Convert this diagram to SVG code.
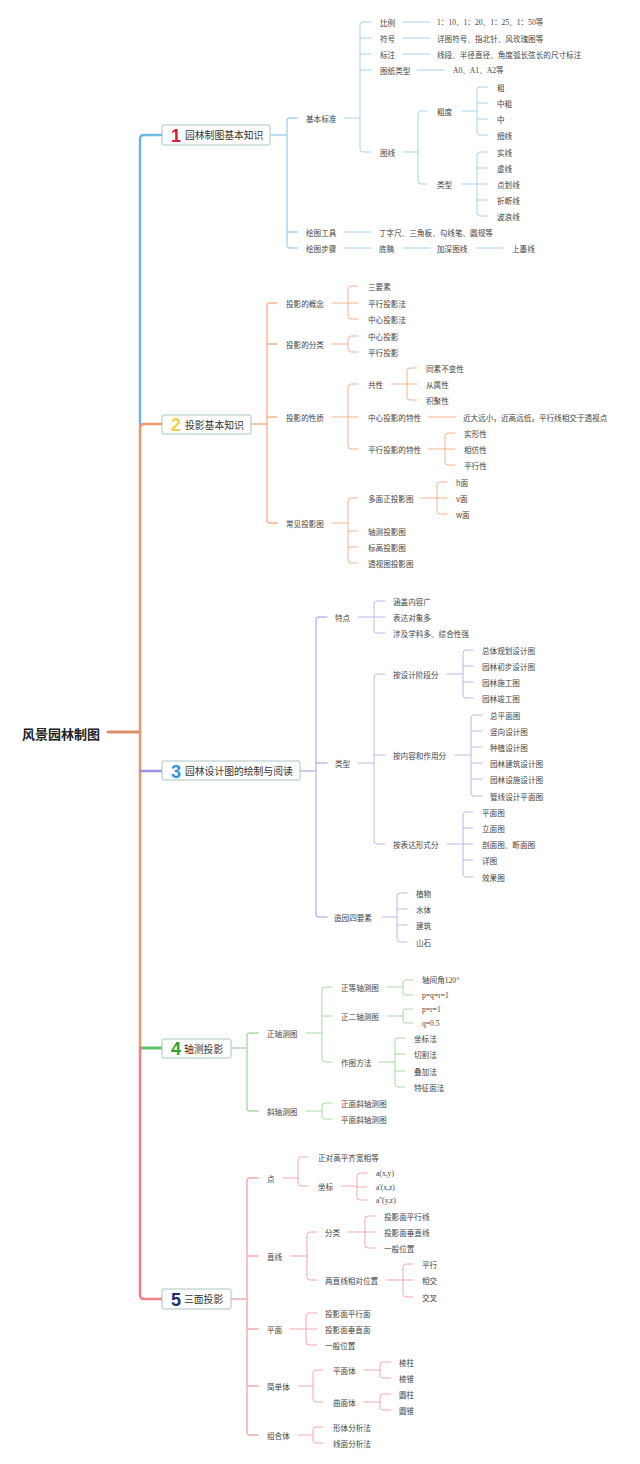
<svg xmlns="http://www.w3.org/2000/svg" width="640" height="1464" viewBox="0 0 640 1464">
<style>
text{font-family:"Noto Sans CJK SC","Noto Sans",sans-serif;dominant-baseline:central;fill:#444}
.t{font-size:7.6px}
.s{font-family:"Liberation Serif","Noto Sans CJK SC",serif;font-size:7.6px}
.nl{font-size:9.8px;fill:#333}
.num{font-family:"Liberation Sans","DejaVu Sans",sans-serif;font-weight:bold;font-size:18px}
.root{font-size:13px;font-weight:bold;fill:#222}
.box{fill:#fff;stroke:#a9c6c2;stroke-width:1}
path{fill:none;stroke-linecap:round;stroke-linejoin:round}
.b1{stroke:#a9d2ee;stroke-width:1}
.b2{stroke:#f5b58e;stroke-width:1}
.b3{stroke:#c2b6ee;stroke-width:1}
.b4{stroke:#a9dca4;stroke-width:1}
.b5{stroke:#f5a9ac;stroke-width:1}
.k{stroke-width:1.4}
</style>
<rect width="640" height="1464" fill="#fff"/>
<g id="connectors">
<path d="M108 732 H140" stroke="#d9906a" stroke-width="3"/>
<path d="M140 425 V139 Q140 135 144 135 H162" stroke="#6db7e4" stroke-width="2.5"/>
<path d="M140 1048 V428 Q140 424 144 424 H162" stroke="#e8996b" stroke-width="2.5"/>
<path d="M140 771 H162" stroke="#9f8fe3" stroke-width="2.5"/>
<path d="M140 1048 H162" stroke="#66c266" stroke-width="3"/>
<path d="M140 1048 V1295 Q140 1299 144 1299 H162" stroke="#f08085" stroke-width="2.5"/>
<path class="b1 k" d="M270 135 H287 M297 118 H290 Q287 118 287 121 V245 Q287 248 290 248 H297 M287 232 H297"/>
<path class="b1" d="M344 118 H360 M371 22 H363 Q360 22 360 25 V149 Q360 152 363 152 H371 M360 38 H371 M360 54 H371 M360 70 H371"/>
<path class="b1" d="M403 22 H430 M403 38 H430 M403 54 H430 M417 70 H444"/>
<path class="b1" d="M403 152 H418 M427 111 H421 Q418 111 418 114 V181 Q418 184 421 184 H427"/>
<path class="b1" d="M462 111 H477 M487 87 H480 Q477 87 477 90 V132 Q477 135 480 135 H487 M477 103 H487 M477 119 H487"/>
<path class="b1" d="M462 184 H477 M487 152 H480 Q477 152 477 155 V213 Q477 216 480 216 H487 M477 168 H487 M477 184 H487 M477 200 H487"/>
<path class="b1" d="M344 232 H371 M344 248 H371 M403 248 H430 M476 248 H503"/>
<path class="b2 k" d="M251 424 H267 M277 303 H270 Q267 303 267 306 V520 Q267 523 270 523 H277 M267 344 H277 M267 417 H277"/>
<path class="b2" d="M332 303 H348 M358 286 H351 Q348 286 348 289 V316 Q348 319 351 319 H358 M348 303 H358"/>
<path class="b2" d="M332 344 H348 M358 336 H351 Q348 336 348 339 V349 Q348 352 351 352 H358"/>
<path class="b2" d="M332 417 H348 M358 384 H351 Q348 384 348 387 V446 Q348 449 351 449 H358 M348 417 H358"/>
<path class="b2" d="M391 384 H407 M417 368 H410 Q407 368 407 371 V397 Q407 400 410 400 H417 M407 384 H417"/>
<path class="b2" d="M428 417 H456"/>
<path class="b2" d="M428 449 H445 M455 433 H448 Q445 433 445 436 V462 Q445 465 448 465 H455 M445 449 H455"/>
<path class="b2" d="M332 523 H348 M358 498 H351 Q348 498 348 501 V560 Q348 563 351 563 H358 M348 531 H358 M348 547 H358"/>
<path class="b2" d="M421 498 H437 M447 482 H440 Q437 482 437 485 V511 Q437 514 440 514 H447 M437 498 H447"/>
<path class="b3 k" d="M300 771 H316 M327 617 H319 Q316 617 316 620 V914 Q316 917 319 917 H327 M316 763 H327"/>
<path class="b3" d="M358 617 H374 M385 601 H377 Q374 601 374 604 V630 Q374 633 377 633 H385 M374 617 H385"/>
<path class="b3" d="M358 763 H374 M385 674 H377 Q374 674 374 677 V841 Q374 844 377 844 H385 M374 755 H385"/>
<path class="b3" d="M447 674 H463 M473 650 H466 Q463 650 463 653 V695 Q463 698 466 698 H473 M463 666 H473 M463 682 H473"/>
<path class="b3" d="M455 755 H471 M482 715 H474 Q471 715 471 718 V793 Q471 796 474 796 H482 M471 731 H482 M471 747 H482 M471 763 H482 M471 779 H482"/>
<path class="b3" d="M447 844 H463 M473 812 H466 Q463 812 463 815 V874 Q463 877 466 877 H473 M463 828 H473 M463 844 H473 M463 860 H473"/>
<path class="b3" d="M382 917 H397 M407 893 H400 Q397 893 397 896 V939 Q397 942 400 942 H407 M397 909 H407 M397 925 H407"/>
<path class="b4 k" d="M231 1048 H247 M258 1033 H250 Q247 1033 247 1036 V1108 Q247 1111 250 1111 H258"/>
<path class="b4" d="M306 1033 H322 M332 987 H325 Q322 987 322 990 V1059 Q322 1062 325 1062 H332 M322 1016 H332"/>
<path class="b4" d="M387 987 H403 M413 980 H406 Q403 980 403 983 V992 Q403 995 406 995 H413"/>
<path class="b4" d="M387 1016 H403 M413 1009 H406 Q403 1009 403 1012 V1020 Q403 1023 406 1023 H413"/>
<path class="b4" d="M379 1062 H395 M405 1038 H398 Q395 1038 395 1041 V1084 Q395 1087 398 1087 H405 M395 1054 H405 M395 1071 H405"/>
<path class="b4" d="M306 1111 H322 M332 1103 H325 Q322 1103 322 1106 V1116 Q322 1119 325 1119 H332"/>
<path class="b5 k" d="M231 1299 H247 M258 1178 H250 Q247 1178 247 1181 V1432 Q247 1435 250 1435 H258 M247 1256 H258 M247 1329 H258 M247 1386 H258"/>
<path class="b5" d="M283 1178 H298 M308 1157 H301 Q298 1157 298 1160 V1183 Q298 1186 301 1186 H308"/>
<path class="b5" d="M341 1186 H357 M367 1173 H360 Q357 1173 357 1176 V1197 Q357 1200 360 1200 H367 M357 1187 H367"/>
<path class="b5" d="M291 1256 H307 M317 1232 H310 Q307 1232 307 1235 V1277 Q307 1280 310 1280 H317"/>
<path class="b5" d="M348 1232 H365 M375 1216 H368 Q365 1216 365 1219 V1245 Q365 1248 368 1248 H375 M365 1232 H375"/>
<path class="b5" d="M387 1280 H403 M413 1264 H406 Q403 1264 403 1267 V1294 Q403 1297 406 1297 H413 M403 1280 H413"/>
<path class="b5" d="M290 1329 H306 M317 1313 H309 Q306 1313 306 1316 V1342 Q306 1345 309 1345 H317 M306 1329 H317"/>
<path class="b5" d="M298 1386 H313 M323 1370 H316 Q313 1370 313 1373 V1399 Q313 1402 316 1402 H323"/>
<path class="b5" d="M364 1370 H380 M391 1362 H383 Q380 1362 380 1365 V1375 Q380 1378 383 1378 H391"/>
<path class="b5" d="M364 1402 H380 M391 1394 H383 Q380 1394 380 1397 V1407 Q380 1410 383 1410 H391"/>
<path class="b5" d="M298 1435 H313 M323 1427 H316 Q313 1427 313 1430 V1440 Q313 1443 316 1443 H323"/>
</g>
<g id="root"><text class="root" x="22" y="733">风景园林制图</text></g>
<g id="n1"><rect class="box" x="162" y="125" width="108" height="20" rx="2"/><text class="num" x="171" y="135.5" style="fill:#d42040">1</text><text class="nl" x="185" y="135">园林制图基本知识</text></g>
<g id="n1-1"><text class="t" x="306" y="118">基本标准</text></g>
<g id="n1-1-1"><text class="t" x="380" y="22">比例</text></g>
<g id="n1-1-1-1"><text class="s" x="437" y="22">1：10、1：20、1：25、1：50等</text></g>
<g id="n1-1-2"><text class="t" x="380" y="38">符号</text></g>
<g id="n1-1-2-1"><text class="t" x="437" y="38">详图符号、指北针、风玫瑰图等</text></g>
<g id="n1-1-3"><text class="t" x="380" y="54">标注</text></g>
<g id="n1-1-3-1"><text class="t" x="437" y="54">线段、半径直径、角度弧长弦长的尺寸标注</text></g>
<g id="n1-1-4"><text class="t" x="380" y="70">图纸类型</text></g>
<g id="n1-1-4-1"><text class="s" x="453" y="70">A0、A1、A2等</text></g>
<g id="n1-1-5"><text class="t" x="380" y="152">图线</text></g>
<g id="n1-1-5-1"><text class="t" x="437" y="111">粗度</text></g>
<g id="n1-1-5-1-1"><text class="t" x="497" y="87">粗</text></g>
<g id="n1-1-5-1-2"><text class="t" x="497" y="103">中粗</text></g>
<g id="n1-1-5-1-3"><text class="t" x="497" y="119">中</text></g>
<g id="n1-1-5-1-4"><text class="t" x="497" y="135">细线</text></g>
<g id="n1-1-5-2"><text class="t" x="437" y="184">类型</text></g>
<g id="n1-1-5-2-1"><text class="t" x="497" y="152">实线</text></g>
<g id="n1-1-5-2-2"><text class="t" x="497" y="168">虚线</text></g>
<g id="n1-1-5-2-3"><text class="t" x="497" y="184">点划线</text></g>
<g id="n1-1-5-2-4"><text class="t" x="497" y="200">折断线</text></g>
<g id="n1-1-5-2-5"><text class="t" x="497" y="216">波浪线</text></g>
<g id="n1-2"><text class="t" x="306" y="232">绘图工具</text></g>
<g id="n1-2-1"><text class="t" x="379" y="232">丁字尺、三角板、勾线笔、圆规等</text></g>
<g id="n1-3"><text class="t" x="306" y="248">绘图步骤</text></g>
<g id="n1-3-1"><text class="t" x="379" y="248">底稿</text></g>
<g id="n1-3-2"><text class="t" x="437" y="248">加深图线</text></g>
<g id="n1-3-3"><text class="t" x="512" y="248">上墨线</text></g>
<g id="n2"><rect class="box" x="162" y="415" width="89" height="19" rx="2"/><text class="num" x="171" y="425" style="fill:#f0d048">2</text><text class="nl" x="185" y="424.5">投影基本知识</text></g>
<g id="n2-1"><text class="t" x="286" y="303">投影的概念</text></g>
<g id="n2-1-1"><text class="t" x="368" y="286">三要素</text></g>
<g id="n2-1-2"><text class="t" x="368" y="303">平行投影法</text></g>
<g id="n2-1-3"><text class="t" x="368" y="319">中心投影法</text></g>
<g id="n2-2"><text class="t" x="286" y="344">投影的分类</text></g>
<g id="n2-2-1"><text class="t" x="368" y="336">中心投影</text></g>
<g id="n2-2-2"><text class="t" x="368" y="352">平行投影</text></g>
<g id="n2-3"><text class="t" x="286" y="417">投影的性质</text></g>
<g id="n2-3-1"><text class="t" x="368" y="384">共性</text></g>
<g id="n2-3-1-1"><text class="t" x="426" y="368">同素不变性</text></g>
<g id="n2-3-1-2"><text class="t" x="426" y="384">从属性</text></g>
<g id="n2-3-1-3"><text class="t" x="426" y="400">积聚性</text></g>
<g id="n2-3-2"><text class="t" x="368" y="417">中心投影的特性</text></g>
<g id="n2-3-2-1"><text class="t" x="463" y="417">近大远小，近高远低，平行线相交于透视点</text></g>
<g id="n2-3-3"><text class="t" x="368" y="449">平行投影的特性</text></g>
<g id="n2-3-3-1"><text class="t" x="464" y="433">实形性</text></g>
<g id="n2-3-3-2"><text class="t" x="464" y="449">相仿性</text></g>
<g id="n2-3-3-3"><text class="t" x="464" y="465">平行性</text></g>
<g id="n2-4"><text class="t" x="286" y="523">常见投影图</text></g>
<g id="n2-4-1"><text class="t" x="368" y="498">多面正投影图</text></g>
<g id="n2-4-1-1"><text class="t" x="456" y="482">h面</text></g>
<g id="n2-4-1-2"><text class="t" x="456" y="498">v面</text></g>
<g id="n2-4-1-3"><text class="t" x="456" y="514">w面</text></g>
<g id="n2-4-2"><text class="t" x="368" y="531">轴测投影图</text></g>
<g id="n2-4-3"><text class="t" x="368" y="547">标高投影图</text></g>
<g id="n2-4-4"><text class="t" x="368" y="563">透视图投影图</text></g>
<g id="n3"><rect class="box" x="162" y="761" width="138" height="19" rx="2"/><text class="num" x="171" y="771.5" style="fill:#2f93dc">3</text><text class="nl" x="185" y="771">园林设计图的绘制与阅读</text></g>
<g id="n3-1"><text class="t" x="335" y="617">特点</text></g>
<g id="n3-1-1"><text class="t" x="393" y="601">涵盖内容广</text></g>
<g id="n3-1-2"><text class="t" x="393" y="617">表达对象多</text></g>
<g id="n3-1-3"><text class="t" x="393" y="633">涉及学科多、综合性强</text></g>
<g id="n3-2"><text class="t" x="335" y="763">类型</text></g>
<g id="n3-2-1"><text class="t" x="393" y="674">按设计阶段分</text></g>
<g id="n3-2-1-1"><text class="t" x="482" y="650">总体规划设计图</text></g>
<g id="n3-2-1-2"><text class="t" x="482" y="666">园林初步设计图</text></g>
<g id="n3-2-1-3"><text class="t" x="482" y="682">园林施工图</text></g>
<g id="n3-2-1-4"><text class="t" x="482" y="698">园林竣工图</text></g>
<g id="n3-2-2"><text class="t" x="393" y="755">按内容和作用分</text></g>
<g id="n3-2-2-1"><text class="t" x="490" y="715">总平面图</text></g>
<g id="n3-2-2-2"><text class="t" x="490" y="731">竖向设计图</text></g>
<g id="n3-2-2-3"><text class="t" x="490" y="747">种植设计图</text></g>
<g id="n3-2-2-4"><text class="t" x="490" y="763">园林建筑设计图</text></g>
<g id="n3-2-2-5"><text class="t" x="490" y="779">园林设施设计图</text></g>
<g id="n3-2-2-6"><text class="t" x="490" y="796">管线设计平面图</text></g>
<g id="n3-2-3"><text class="t" x="393" y="844">按表达形式分</text></g>
<g id="n3-2-3-1"><text class="t" x="482" y="812">平面图</text></g>
<g id="n3-2-3-2"><text class="t" x="482" y="828">立面图</text></g>
<g id="n3-2-3-3"><text class="t" x="482" y="844">剖面图、断面图</text></g>
<g id="n3-2-3-4"><text class="t" x="482" y="860">详图</text></g>
<g id="n3-2-3-5"><text class="t" x="482" y="877">效果图</text></g>
<g id="n3-3"><text class="t" x="334" y="917">造园四要素</text></g>
<g id="n3-3-1"><text class="t" x="416" y="893">植物</text></g>
<g id="n3-3-2"><text class="t" x="416" y="909">水体</text></g>
<g id="n3-3-3"><text class="t" x="416" y="925">建筑</text></g>
<g id="n3-3-4"><text class="t" x="416" y="942">山石</text></g>
<g id="n4"><rect class="box" x="162" y="1039" width="69" height="19" rx="2"/><text class="num" x="171" y="1049" style="fill:#2fa52f">4</text><text class="nl" x="184" y="1048.5">轴测投影</text></g>
<g id="n4-1"><text class="t" x="267" y="1033">正轴测图</text></g>
<g id="n4-1-1"><text class="t" x="341" y="987">正等轴测图</text></g>
<g id="n4-1-1-1"><text class="s" x="422" y="980">轴间角120°</text></g>
<g id="n4-1-1-2"><text class="s" x="422" y="995">p=q=r=1</text></g>
<g id="n4-1-2"><text class="t" x="341" y="1016">正二轴测图</text></g>
<g id="n4-1-2-1"><text class="s" x="422" y="1009">p=r=1</text></g>
<g id="n4-1-2-2"><text class="s" x="422" y="1023">q=0.5</text></g>
<g id="n4-1-3"><text class="t" x="341" y="1062">作图方法</text></g>
<g id="n4-1-3-1"><text class="t" x="414" y="1038">坐标法</text></g>
<g id="n4-1-3-2"><text class="t" x="414" y="1054">切割法</text></g>
<g id="n4-1-3-3"><text class="t" x="414" y="1071">叠加法</text></g>
<g id="n4-1-3-4"><text class="t" x="414" y="1087">特征面法</text></g>
<g id="n4-2"><text class="t" x="267" y="1111">斜轴测图</text></g>
<g id="n4-2-1"><text class="t" x="341" y="1103">正面斜轴测图</text></g>
<g id="n4-2-2"><text class="t" x="341" y="1119">平面斜轴测图</text></g>
<g id="n5"><rect class="box" x="162" y="1289" width="69" height="20" rx="2"/><text class="num" x="171" y="1299.5" style="fill:#1b2a78">5</text><text class="nl" x="184" y="1299">三面投影</text></g>
<g id="n5-1"><text class="t" x="267" y="1178">点</text></g>
<g id="n5-1-1"><text class="t" x="318" y="1157">正对高平齐宽相等</text></g>
<g id="n5-1-2"><text class="t" x="318" y="1186">坐标</text></g>
<g id="n5-1-2-1"><text class="s" x="376" y="1173">a(x,y)</text></g>
<g id="n5-1-2-2"><text class="s" x="376" y="1187">a'(x,z)</text></g>
<g id="n5-1-2-3"><text class="s" x="376" y="1200">a''(y,z)</text></g>
<g id="n5-2"><text class="t" x="267" y="1256">直线</text></g>
<g id="n5-2-1"><text class="t" x="325" y="1232">分类</text></g>
<g id="n5-2-1-1"><text class="t" x="384" y="1216">投影面平行线</text></g>
<g id="n5-2-1-2"><text class="t" x="384" y="1232">投影面垂直线</text></g>
<g id="n5-2-1-3"><text class="t" x="384" y="1248">一般位置</text></g>
<g id="n5-2-2"><text class="t" x="325" y="1280">两直线相对位置</text></g>
<g id="n5-2-2-1"><text class="t" x="422" y="1264">平行</text></g>
<g id="n5-2-2-2"><text class="t" x="422" y="1280">相交</text></g>
<g id="n5-2-2-3"><text class="t" x="422" y="1297">交叉</text></g>
<g id="n5-3"><text class="t" x="267" y="1329">平面</text></g>
<g id="n5-3-1"><text class="t" x="325" y="1313">投影面平行面</text></g>
<g id="n5-3-2"><text class="t" x="325" y="1329">投影面垂直面</text></g>
<g id="n5-3-3"><text class="t" x="325" y="1345">一般位置</text></g>
<g id="n5-4"><text class="t" x="267" y="1386">简单体</text></g>
<g id="n5-4-1"><text class="t" x="333" y="1370">平面体</text></g>
<g id="n5-4-1-1"><text class="t" x="399" y="1362">棱柱</text></g>
<g id="n5-4-1-2"><text class="t" x="399" y="1378">棱锥</text></g>
<g id="n5-4-2"><text class="t" x="333" y="1402">曲面体</text></g>
<g id="n5-4-2-1"><text class="t" x="399" y="1394">圆柱</text></g>
<g id="n5-4-2-2"><text class="t" x="399" y="1410">圆锥</text></g>
<g id="n5-5"><text class="t" x="267" y="1435">组合体</text></g>
<g id="n5-5-1"><text class="t" x="333" y="1427">形体分析法</text></g>
<g id="n5-5-2"><text class="t" x="333" y="1443">线面分析法</text></g>
</svg>
